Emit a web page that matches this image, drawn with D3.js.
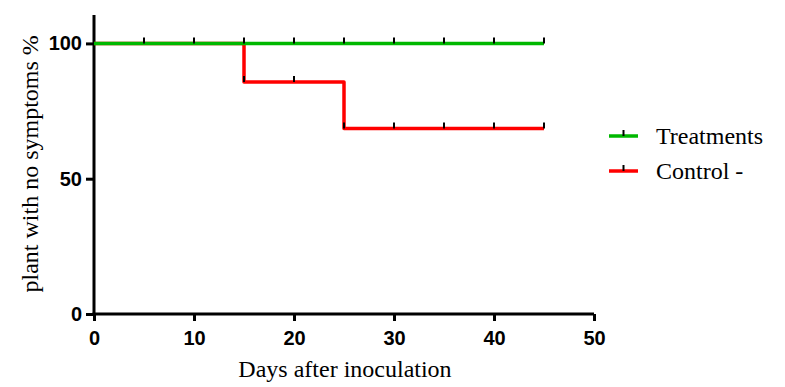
<!DOCTYPE html>
<html>
<head>
<meta charset="utf-8">
<script src="https://cdn.jsdelivr.net/npm/d3@7"></script>
<style>
  body { margin: 0; background: #fff; }
  .tick text { font-family: "Liberation Sans", Arial, sans-serif; font-weight: bold; font-size: 20px; }
  .title { font-family: "Liberation Serif", "DejaVu Serif", serif; font-size: 24px; }
</style>
</head>
<body>
<div id="chart"></div>
<script>
// Kaplan-Meier style data
const seriesNames = ["Treatments", "Control -"];
const seriesColors = ["#00b800", "#ff0000"];
const treatmentSteps = [[0, 100], [45, 100]];
const controlSteps = [[0, 100], [15, 85.7], [25, 68.6], [45, 68.6]];
const treatmentCensor = [5, 10, 15, 20, 25, 30, 35, 40, 45];
const controlCensor = [15, 20, 25, 30, 35, 40, 45];
const xTicks = [0, 10, 20, 30, 40, 50];
const yTicks = [0, 50, 100];

const margin = { top: 15, right: 191, bottom: 73, left: 94 },
      width = 785 - margin.left - margin.right,
      height = 387 - margin.top - margin.bottom;

const svg = d3.select("#chart").append("svg")
    .attr("width", 785)
    .attr("height", 387)
  .append("g")
    .attr("transform", `translate(${margin.left},${margin.top})`);

const x = d3.scaleLinear().domain([0, 50]).range([0, width]);
const y = d3.scaleLinear().domain([0, 110.5]).range([height, 0]);

// axes
const xAxis = svg.append("g")
  .attr("transform", `translate(0,${height})`)
  .call(d3.axisBottom(x).tickValues(xTicks).tickSize(7).tickPadding(10).tickSizeOuter(0));
const yAxis = svg.append("g")
  .call(d3.axisLeft(y).tickValues(yTicks).tickSize(8).tickPadding(4).tickSizeOuter(0));

[xAxis, yAxis].forEach(a => {
  a.select(".domain").attr("stroke", "#000").attr("stroke-width", 3);
  a.selectAll(".tick line").attr("stroke", "#000").attr("stroke-width", 3);
  a.selectAll(".tick text").attr("fill", "#000");
});
yAxis.select(".domain").attr("d", `M0,0V${height}`);
xAxis.select(".domain").attr("d", `M-1.5,0H${width}`);

// step lines
const line = d3.line()
  .x(d => x(d[0]))
  .y(d => y(d[1]))
  .curve(d3.curveStepAfter);

const series = [
  { steps: treatmentSteps, censor: treatmentCensor },
  { steps: controlSteps, censor: controlCensor }
];

function valueAt(steps, t) {
  let v = steps[0][1];
  steps.forEach(s => { if (s[0] <= t) v = s[1]; });
  return v;
}

// draw control first so treatment line sits on top at 100
[1, 0].forEach(i => {
  const s = series[i];
  svg.append("path")
    .datum(s.steps)
    .attr("fill", "none")
    .attr("stroke", seriesColors[i])
    .attr("stroke-width", 3.5)
    .attr("stroke-linejoin", "round")
    .attr("d", line);
});

[0, 1].forEach(i => {
  const s = series[i];
  svg.append("g")
    .selectAll("line")
    .data(s.censor)
    .enter().append("line")
      .attr("x1", d => x(d))
      .attr("x2", d => x(d))
      .attr("y1", d => y(valueAt(s.steps, d)) - 6)
      .attr("y2", d => y(valueAt(s.steps, d)))
      .attr("stroke", "#000")
      .attr("stroke-width", 2);
});

// axis titles
svg.append("text")
  .attr("class", "title")
  .attr("x", x(25.1))
  .attr("y", height + 63)
  .attr("text-anchor", "middle")
  .text("Days after inoculation");

svg.append("text")
  .attr("class", "title")
  .attr("transform", `translate(${-56},${y(55.5)}) rotate(-90)`)
  .attr("text-anchor", "middle")
  .text("plant with no symptoms %");

// legend
const legend = svg.append("g")
  .attr("transform", `translate(${width + 15}, 121)`)
  .selectAll("g")
  .data(seriesNames)
  .enter().append("g")
    .attr("transform", (d, i) => `translate(0,${i * 35})`);

legend.append("line")
  .attr("x1", 0).attr("x2", 29)
  .attr("stroke", (d, i) => seriesColors[i])
  .attr("stroke-width", 3.5);
legend.append("line")
  .attr("x1", 14.5).attr("x2", 14.5)
  .attr("y1", -6).attr("y2", 0)
  .attr("stroke", "#000").attr("stroke-width", 2);
legend.append("text")
  .attr("class", "title")
  .attr("x", 47)
  .attr("y", 8)
  .text(d => d);
</script>
</body>
</html>
